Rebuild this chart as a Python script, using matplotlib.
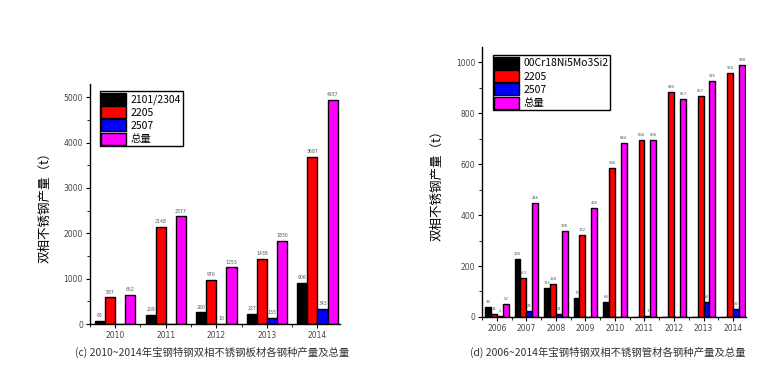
import matplotlib
matplotlib.use("Agg")
import matplotlib.pyplot as plt
from matplotlib.ticker import MultipleLocator

plt.rcParams['font.family'] = ['DejaVu Sans', 'Noto Sans CJK SC']

# (c) plate output by grade, 2010-2014
years_c = [2010, 2011, 2012, 2013, 2014]
plate_2101 = [65, 209, 260, 227, 906]
plate_2205 = [587, 2148, 976, 1438, 3687]
plate_2507 = [0, 0, 10, 133, 343]
plate_total = [652, 2377, 1253, 1830, 4937]
labels_c = ['2101/2304', '2205', '2507', '总量']

# (d) tube output by grade, 2006-2014
years_d = [2006, 2007, 2008, 2009, 2010, 2011, 2012, 2013, 2014]
tube_00cr = [38, 226, 115, 73, 58, 0, 0, 0, 0]
tube_2205 = [12, 151, 128, 322, 586, 694, 885, 867, 958]
tube_2507 = [2, 24, 11, 0, 0, 3, 0, 58, 32]
tube_total = [52, 446, 338, 426, 684, 696, 857, 925, 988]
labels_d = ['00Cr18Ni5Mo3Si2', '2205', '2507', '总量']

colors = ['black', 'red', 'blue', 'magenta']
ylabel = '双相不锈钢产量（t）'
cjk = ['Noto Sans CJK SC', 'DejaVu Sans']


def draw(ax, years, series, labels, ylim, major, minor, lbl_off, lbl_size):
    w = 0.2
    offsets = [-0.3, -0.1, 0.1, 0.3]
    for vals, c, off, lab in zip(series, colors, offsets, labels):
        xs = [y + off for y in years]
        ax.bar(xs, vals, width=w, color=c, edgecolor='black', linewidth=1.0, label=lab)
        for x, v in zip(xs, vals):
            if v > 0:
                ax.text(x, v + lbl_off, str(v), ha='center', va='bottom',
                        fontsize=lbl_size, color='#555555')
    ax.set_xlim(years[0] - 0.5, years[-1] + 0.45)
    ax.set_ylim(*ylim)
    ax.set_xticks(years)
    ax.xaxis.set_minor_locator(MultipleLocator(0.5))
    ax.yaxis.set_major_locator(MultipleLocator(major))
    ax.yaxis.set_minor_locator(MultipleLocator(minor))
    ax.spines['top'].set_visible(False)
    ax.spines['right'].set_visible(False)
    for s in ['left', 'bottom']:
        ax.spines[s].set_linewidth(1.0)
    ax.tick_params(axis='both', which='major', direction='out', length=3, width=0.8,
                   labelsize=5.5, labelcolor='#444444', pad=2)
    ax.tick_params(axis='both', which='minor', direction='out', length=2, width=0.6)
    ax.set_ylabel(ylabel, fontsize=9, family=cjk, labelpad=9)
    leg = ax.legend(loc='upper left', bbox_to_anchor=(0.04, 0.97), borderaxespad=0,
                    prop={'family': cjk, 'size': 7.5},
                    handlelength=2.4, handleheight=1.4, handletextpad=0.4,
                    labelspacing=0.12, borderpad=0.15, fancybox=False,
                    edgecolor='black', framealpha=1)
    leg.get_frame().set_linewidth(1.0)


fig = plt.figure(figsize=(7.75, 3.8), dpi=100)
ax1 = fig.add_axes([0.116, 0.147, 0.323, 0.632])
ax2 = fig.add_axes([0.622, 0.166, 0.341, 0.71])

draw(ax1, years_c, [plate_2101, plate_2205, plate_2507, plate_total], labels_c,
     (0, 5290), 1000, 500, 60, 3.3)
draw(ax2, years_d, [tube_00cr, tube_2205, tube_2507, tube_total], labels_d,
     (0, 1060), 200, 100, 12, 2.7)

fig.text(0.274, 0.074, '(c) 2010~2014年宝钢特钢双相不锈钢板材各钢种产量及总量',
         ha='center', va='center', fontsize=7.5, family=cjk, color='#333333')
fig.text(0.784, 0.074, '(d) 2006~2014年宝钢特钢双相不锈钢管材各钢种产量及总量',
         ha='center', va='center', fontsize=7.5, family=cjk, color='#333333')

fig.savefig('out.png', dpi=100)
